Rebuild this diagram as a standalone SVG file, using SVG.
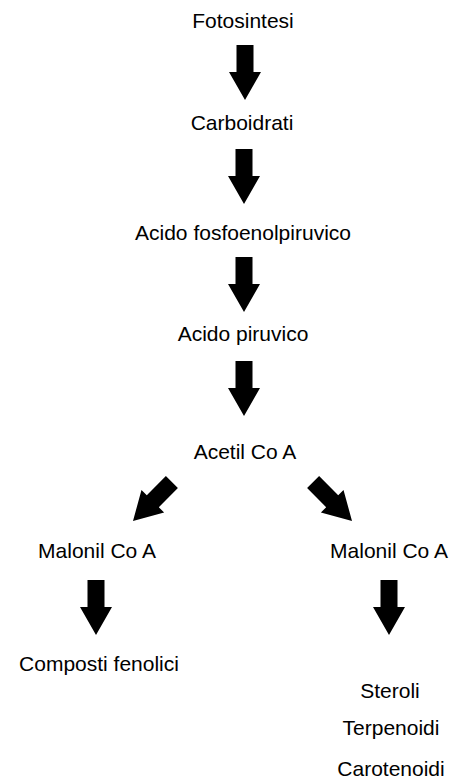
<svg xmlns="http://www.w3.org/2000/svg" xmlns:xlink="http://www.w3.org/1999/xlink" width="452" height="783" viewBox="0 0 452 783">
<style>
text{font-family:"Liberation Sans",Arial,Helvetica,sans-serif;font-size:21px;fill:#000;text-anchor:middle}
.arr{fill:#000}
</style>
<defs>
<path id="ar" d="M-8.5,-55 H8.5 V-28 H16 L0,0 L-16,-28 H-8.5 Z"/>
</defs>
<rect width="452" height="783" fill="#fff"/>
<g id="n1"><text x="243" y="28">Fotosintesi</text></g>
<g id="n2"><text x="242" y="130">Carboidrati</text></g>
<g id="n3"><text x="243" y="240">Acido fosfoenolpiruvico</text></g>
<g id="n4"><text x="243" y="341">Acido piruvico</text></g>
<g id="n5"><text x="245" y="459">Acetil Co A</text></g>
<g id="n6"><text x="97" y="558">Malonil Co A</text></g>
<g id="n7"><text x="389" y="558">Malonil Co A</text></g>
<g id="n8"><text x="99" y="671">Composti fenolici</text></g>
<g id="n9"><text x="390" y="698">Steroli</text><text x="391" y="735">Terpenoidi</text><text x="391" y="776">Carotenoidi</text></g>
<g id="connectors" class="arr">
<use xlink:href="#ar" transform="translate(245,100)"/>
<use xlink:href="#ar" transform="translate(244,204)"/>
<use xlink:href="#ar" transform="translate(244,312)"/>
<use xlink:href="#ar" transform="translate(244,416)"/>
<use xlink:href="#ar" transform="translate(133,521) rotate(45)"/>
<use xlink:href="#ar" transform="translate(352,521) rotate(-45)"/>
<use xlink:href="#ar" transform="translate(96,635)"/>
<use xlink:href="#ar" transform="translate(389,635)"/>
</g>
</svg>
